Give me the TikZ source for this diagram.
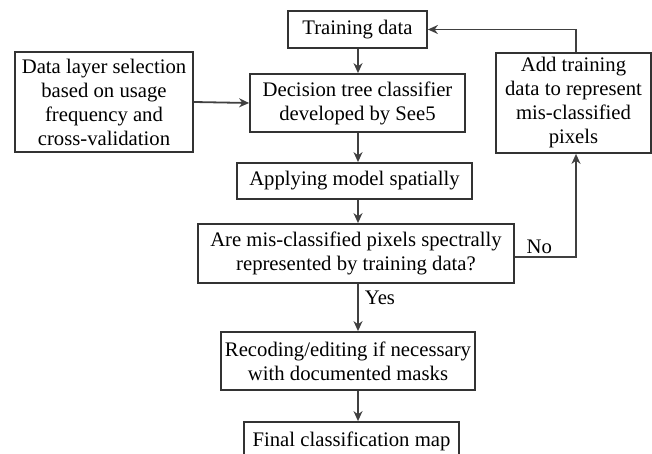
\documentclass[tikz,border=0pt]{standalone}
\usepackage{fontspec}
\setmainfont{Liberation Serif}
\usetikzlibrary{arrows.meta}

\begin{document}
\begin{tikzpicture}[x=1pt,y=-1pt,
    step_box/.style={draw=black!80,line width=1.8pt,align=center,inner sep=0pt,
      font=\fontsize{20.7}{24}\selectfont},
    flow_arrow/.style={draw=black!75,line width=1.8pt,-{Stealth[length=10pt,width=9pt]}},
    branch_label/.style={font=\fontsize{20.7}{24}\selectfont,inner sep=2pt}]
  \useasboundingbox (0,0) rectangle (652,454);
\node[step_box,minimum width=139pt,minimum height=37pt] (training) at (357.5,29.5) {Training data};
\node[step_box,minimum width=178pt,minimum height=100pt] (select) at (104,102) {Data layer selection\\based on usage\\frequency and\\cross-validation};
\node[step_box,minimum width=215pt,minimum height=58pt] (tree) at (357.5,103) {Decision tree classifier\\developed by See5};
\node[step_box,minimum width=155pt,minimum height=100pt] (addtrain) at (573.5,103) {Add training\\data to represent\\mis-classified\\pixels};
\node[step_box,minimum width=235pt,minimum height=36pt] (apply) at (354.5,181) {Applying model spatially};
\node[step_box,minimum width=316pt,minimum height=59pt] (question) at (356,253.5) {Are mis-classified pixels spectrally\\represented by training data?};
\node[step_box,minimum width=254pt,minimum height=58pt] (recode) at (348,361) {Recoding/editing if necessary\\with documented masks};
\node[step_box,minimum width=215pt,minimum height=38pt] (final) at (351.5,441) {Final classification map};
\draw[flow_arrow] (training.south -| 358,0) -- (tree.north -| 358,0);
\draw[flow_arrow] (select.east) -- (tree.west);
\draw[flow_arrow] (tree.south -| 358,0) -- (apply.north -| 358,0);
\draw[flow_arrow] (apply.south -| 358,0) -- (question.north -| 358,0);
\draw[flow_arrow] (question.south -| 358,0) -- node[branch_label,anchor=west,pos=0.3,xshift=4pt] (yes) {Yes} (recode.north -| 358,0);
\draw[flow_arrow] (recode.south -| 358,0) -- (final.north -| 358,0);
\draw[flow_arrow] (question.east |- 0,257) -- node[branch_label,anchor=south,pos=0.4] (no) {No} (576,257) -- (addtrain.south -| 576,0);
\draw[flow_arrow] (addtrain.north -| 576,0) -- (576,29.5) -- (training.east);
\end{tikzpicture}
\end{document}
